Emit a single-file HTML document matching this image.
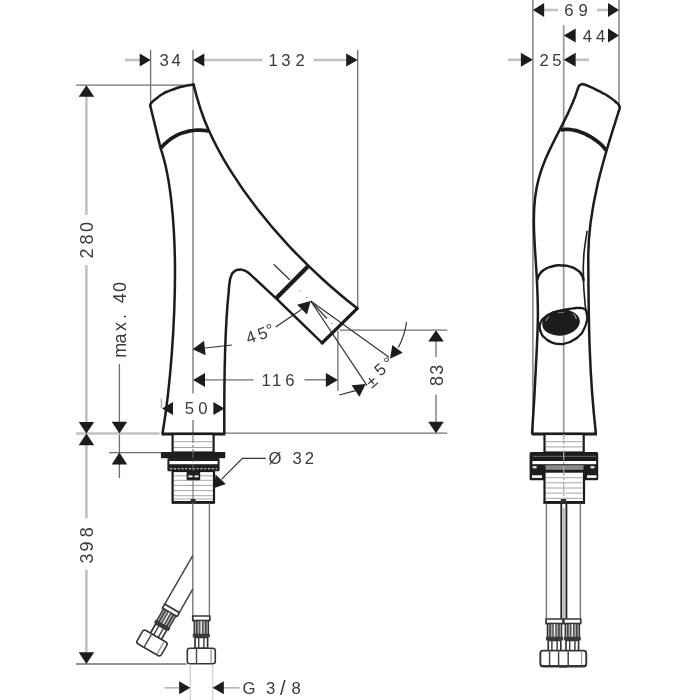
<!DOCTYPE html>
<html>
<head>
<meta charset="utf-8">
<title>Dimension drawing</title>
<style>
html,body{margin:0;padding:0;background:#fff;}
body{width:700px;height:700px;overflow:hidden;}
svg{display:block;}
text{font-family:"Liberation Sans",sans-serif;font-size:16.7px;fill:#3a3a3a;}
text.v{font-size:18px;}
.b{fill:none;stroke:#1c1c1c;stroke-width:2.5;stroke-linecap:round;stroke-linejoin:round;}
.bt{fill:none;stroke:#1c1c1c;stroke-width:3.4;stroke-linecap:butt;}
.m{fill:none;stroke:#333;stroke-width:1.2;}
.g{fill:none;stroke:#707070;stroke-width:1.3;}
.l{fill:none;stroke:#b4b4b4;stroke-width:1.6;}
.vl{fill:none;stroke:#d2d2d2;stroke-width:1.3;}
.c{fill:none;stroke:#9c9c9c;stroke-width:1.8;}
.d{fill:none;stroke:#c2c2c2;stroke-width:2.6;}
.a{fill:#1c1c1c;stroke:none;}
.th{fill:none;stroke:#9a9a9a;stroke-width:0.9;}
.h{fill:none;stroke:#777;stroke-width:1.4;}
.ha{fill:none;stroke:#444;stroke-width:1.5;}
.f{fill:#fff;stroke:#363636;stroke-width:1.7;stroke-linejoin:round;}
</style>
</head>
<body>
<svg width="700" height="700" viewBox="0 0 700 700">
<rect width="700" height="700" fill="#fff"/>
<defs><filter id="soft" x="0" y="0" width="700" height="700" filterUnits="userSpaceOnUse"><feGaussianBlur stdDeviation="0.6"/></filter></defs>
<g filter="url(#soft)">

<g class="g">
<line x1="150.6" y1="50" x2="150.6" y2="105"/>
<line x1="193" y1="50" x2="193" y2="393.5"/>
<line x1="193" y1="420" x2="193" y2="433"/>
<line x1="357.7" y1="50" x2="357.7" y2="307"/>
<line x1="76" y1="85.2" x2="193" y2="85.2"/>
<line x1="225" y1="433.2" x2="447.3" y2="433.2"/>
<line x1="109" y1="452.6" x2="161" y2="452.6"/>
<line x1="76" y1="664" x2="186.5" y2="664"/>
<line x1="340" y1="330.1" x2="447.3" y2="330.1"/>
<line x1="337.9" y1="331" x2="337.9" y2="391"/>
<line x1="119.4" y1="364" x2="119.4" y2="478"/>
<line x1="205" y1="379.8" x2="253.5" y2="379.8"/>
<line x1="304.5" y1="379.8" x2="326" y2="379.8"/>
<line x1="436" y1="341" x2="436" y2="357"/>
<line x1="436" y1="394.5" x2="436" y2="422"/>
<line x1="532.9" y1="0" x2="532.9" y2="433"/>
<line x1="619" y1="0" x2="619" y2="104"/>
</g>
<g class="l">
<line x1="161.4" y1="398.5" x2="161.4" y2="408"/>
<line x1="164.5" y1="687.8" x2="179" y2="687.8"/>
<line x1="224" y1="687.8" x2="239.5" y2="687.8"/>
</g>
<g class="vl"><line x1="190.3" y1="665" x2="190.3" y2="700"/><line x1="212.6" y1="665" x2="212.6" y2="700"/></g>
<line class="c" x1="563.7" y1="25" x2="563.7" y2="433"/>
<g class="d">
<line x1="76" y1="433.5" x2="159.5" y2="433.5"/>
<line x1="125" y1="60" x2="140" y2="60"/>
<line x1="204" y1="60" x2="262.5" y2="60"/>
<line x1="313.5" y1="60" x2="346" y2="60"/>
<line x1="86.4" y1="96" x2="86.4" y2="215"/>
<line x1="86.4" y1="265" x2="86.4" y2="423"/>
<line x1="86.4" y1="445" x2="86.4" y2="518.5"/>
<line x1="86.4" y1="569.5" x2="86.4" y2="653"/>
<line x1="544" y1="10" x2="558" y2="10"/>
<line x1="597" y1="10" x2="608" y2="10"/>
<line x1="508" y1="59.8" x2="521" y2="59.8"/>
<line x1="575.5" y1="59.8" x2="589" y2="59.8"/>
</g>
<g class="a">
<path d="M150.7 60.0 L139.7 66.5 L139.7 53.5 Z"/>
<path d="M193.0 60.0 L204.3 53.5 L204.3 66.5 Z"/>
<path d="M357.7 60.0 L346.2 66.5 L346.2 53.5 Z"/>
<path d="M86.4 85.2 L94.2 96.8 L78.7 96.8 Z"/>
<path d="M86.4 433.4 L78.7 422.0 L94.2 422.0 Z"/>
<path d="M86.4 433.4 L94.2 445.2 L78.7 445.2 Z"/>
<path d="M86.4 664.0 L78.7 652.2 L94.2 652.2 Z"/>
<path d="M119.4 433.4 L111.7 421.8 L127.2 421.8 Z"/>
<path d="M119.4 452.6 L127.2 464.6 L111.7 464.6 Z"/>
<path d="M193.0 380.0 L205.0 373.0 L205.0 387.0 Z"/>
<path d="M337.9 380.0 L325.9 387.0 L325.9 373.0 Z"/>
<path d="M192.6 349.3 L204.1 340.8 L205.6 355.2 Z"/>
<path d="M162.0 408.6 L173.0 402.1 L173.0 415.1 Z"/>
<path d="M224.4 408.6 L213.4 415.1 L213.4 402.1 Z"/>
<path d="M436.0 330.2 L443.8 341.5 L428.2 341.5 Z"/>
<path d="M436.0 433.2 L428.2 421.7 L443.8 421.7 Z"/>
<path d="M190.3 687.7 L179.1 694.2 L179.1 681.2 Z"/>
<path d="M212.6 687.7 L223.8 681.2 L223.8 694.2 Z"/>
<path d="M310.7 301.0 L307.0 314.6 L297.1 304.7 Z"/>
<path d="M390.0 358.8 L392.3 344.9 L402.7 352.7 Z"/>
<path d="M365.7 384.1 L359.4 396.8 L351.6 385.2 Z"/>
<path d="M532.9 10.0 L544.1 3.0 L544.1 17.0 Z"/>
<path d="M619.0 10.0 L608.0 17.0 L608.0 3.0 Z"/>
<path d="M563.7 35.6 L575.7 28.6 L575.7 42.6 Z"/>
<path d="M619.0 35.6 L608.0 42.6 L608.0 28.6 Z"/>
<path d="M532.9 59.7 L520.9 66.7 L520.9 52.7 Z"/>
<path d="M563.7 59.7 L575.7 52.7 L575.7 66.7 Z"/>
<path d="M215.5 474.6 L225.8 484.1 L214.3 488 Z"/>
</g>
<g class="m">
<line x1="205" y1="348" x2="232.1" y2="345"/>
<line x1="275.7" y1="327.1" x2="301.5" y2="309.5"/>
<line x1="310.7" y1="301" x2="389" y2="357.3"/>
<line x1="310.7" y1="301" x2="367.1" y2="385.7"/>
<line x1="310.7" y1="301" x2="327" y2="318.5"/>
<line x1="273.6" y1="264.3" x2="290" y2="280"/>
<path d="M406.6 322 Q404.5 336 398.3 347.5"/>
<line x1="339.3" y1="395" x2="356.5" y2="390.3"/>
<path d="M221.5 479.3 L242.4 458.3 H265.7"/>
</g>
<line x1="300" y1="290.5" x2="343.5" y2="335.5" stroke="#555" stroke-width="1" stroke-dasharray="1.5 7.5"/>
<path class="b" d="M150.2 105.5 L160.7 148.6 C171.4 178.9 175 230.4 175 272 C175 323.9 170.4 387 162.6 433"/>
<path class="b" d="M150.2 105.5 C150.7 104.6 149.3 105.2 151.6 102.7 C153.9 100.2 153.3 100.9 157.1 97.9 C160.9 94.9 159.1 96.0 162.9 93.8 C166.7 91.6 163.9 93.1 168.6 91.2 C173.3 89.3 172.3 89.6 177.1 88.0 C181.9 86.4 177.4 87.5 182.9 86.4 C188.4 85.3 190.0 85.2 193.6 84.6"/>
<path class="b" d="M193.6 84.6 C197.3 100.0 201.9 114.9 208.2 129.1 C214.5 143.4 222.0 157.2 230.3 170.4 C238.6 183.7 247.7 196.6 257.4 208.9 C267.0 221.3 277.2 233.3 287.9 244.8 C298.6 256.3 309.8 267.4 321.3 278.0 C332.8 288.6 344.9 298.7 357.1 308.3"/>
<path class="b" d="M322.1 342.9 L276.4 298.6 L248.6 272.9"/>
<path class="b" d="M248.6 272.9 C247.1 272.1 247.3 271.4 244.0 270.4 C240.7 269.4 241.9 269.3 238.6 269.8 C235.3 270.3 236.5 269.6 234.0 271.8 C231.5 274.0 232.5 272.4 231.0 276.5 C229.5 280.6 230.2 278.5 229.4 284.0 C228.6 289.5 228.9 289.9 228.6 292.9 C224.2 333.8 224.1 389.5 224.3 433"/>
<path style="stroke-width:3" class="bt" d="M161.5 434 H225.3"/>
<path style="stroke-width:3.7" class="bt" d="M161.1 147.9 C163.1 145.9 162.1 146.0 167.0 142.0 C171.9 138.0 170.0 139.1 175.7 135.9 C181.4 132.7 178.3 134.3 184.0 132.5 C189.7 130.7 187.6 131.3 192.9 130.5 C198.2 129.7 194.7 130.1 200.0 130.2 C205.3 130.3 205.9 130.6 208.8 130.8"/>
<path style="stroke-width:4.3" class="bt" d="M276 298.6 L307.8 266.6"/>
<path style="stroke-width:3.2;stroke-linecap:round" class="bt" d="M357.3 308.3 L322.1 343"/>
<g>
<rect x="172.6" y="434" width="41" height="18.5" fill="#fff" stroke="#1c1c1c" stroke-width="2.2"/>
<g class="th"><line x1="174" y1="441.7" x2="212.5" y2="441.7"/><line x1="174" y1="447.5" x2="212.5" y2="447.5"/></g>
<rect x="160.9" y="452" width="64.4" height="6.2" rx="1" fill="#1c1c1c"/>
<rect x="167.4" y="458" width="52.2" height="13.3" rx="1.5" fill="#222"/>
<rect x="169.4" y="461" width="48.2" height="3.2" fill="#fff"/>
<line x1="170" y1="468.7" x2="217" y2="468.7" stroke="#aaa" stroke-width="1.6" stroke-dasharray="2.2 1.6"/>
<rect x="172.6" y="471" width="41.4" height="31.5" fill="#fff" stroke="#1c1c1c" stroke-width="2.2"/>
<g class="th"><line x1="174" y1="475.8" x2="212.8" y2="475.8"/><line x1="174" y1="480.3" x2="212.8" y2="480.3"/><line x1="174" y1="485.4" x2="212.8" y2="485.4"/><line x1="174" y1="490.6" x2="212.8" y2="490.6"/><line x1="174" y1="495.7" x2="212.8" y2="495.7"/><line x1="174" y1="499" x2="212.8" y2="499"/></g>
<line x1="172" y1="502.3" x2="214.6" y2="502.3" stroke="#1c1c1c" stroke-width="2.8"/>
<rect x="186.6" y="471.5" width="13.6" height="8.8" rx="1.2" fill="#222"/>
<rect x="188.5" y="475.5" width="4" height="1.8" fill="#fff"/><rect x="194.5" y="475.5" width="4" height="1.8" fill="#fff"/>
<rect x="190.6" y="499" width="5" height="4.4" fill="#333"/>
<line x1="193" y1="434" x2="193" y2="471" stroke="#666" stroke-width="1" stroke-dasharray="9 2 2 2"/>
<line x1="193" y1="481" x2="193" y2="499" stroke="#666" stroke-width="1"/>
</g>
<g class="h">
<line x1="192.8" y1="503.5" x2="192.8" y2="616"/>
<line x1="209.4" y1="503.5" x2="209.4" y2="616"/>
</g>
<g transform="translate(152 643) rotate(30)">
<g transform="translate(0 -40)">
<line class="ha" x1="-8.4" y1="0" x2="-8.4" y2="-56"/>
<line class="ha" x1="8.4" y1="0" x2="8.4" y2="-27"/>
<rect class="f" x="-8.5" y="0" width="17" height="4.6"/><rect x="-7.1" y="4.6" width="14.2" height="14" fill="#a8a8a8" stroke="#363636" stroke-width="1.4"/><line x1="-4.5" y1="5" x2="-4.5" y2="18.5" stroke="#3a3a3a" stroke-width="1.4"/><line x1="-1.3" y1="5" x2="-1.3" y2="18.5" stroke="#3a3a3a" stroke-width="1.4"/><line x1="1.3" y1="5" x2="1.3" y2="18.5" stroke="#3a3a3a" stroke-width="1.4"/><line x1="4.5" y1="5" x2="4.5" y2="18.5" stroke="#3a3a3a" stroke-width="1.4"/><line x1="0" y1="5" x2="0" y2="18.5" stroke="#eee" stroke-width="1.6"/><rect x="-8.5" y="17.8" width="17" height="3.6" fill="#3a3a3a"/><rect class="f" x="-6.3" y="21.4" width="12.6" height="11"/><line x1="-2.6" y1="22" x2="-2.6" y2="32" stroke="#444" stroke-width="1.5"/><line x1="2.6" y1="22" x2="2.6" y2="32" stroke="#444" stroke-width="1.5"/><rect style="stroke-width:1.6" class="f" x="-14" y="32.2" width="28" height="15.6" rx="2.5"/><line x1="-4.8" y1="33" x2="-4.8" y2="47.5" stroke="#444" stroke-width="1.4"/><line x1="9.8" y1="33" x2="9.8" y2="47.5" stroke="#888" stroke-width="1.1"/>
</g></g>
<g transform="translate(201.3 616)">
<rect class="f" x="-8.5" y="0" width="17" height="4.6"/><rect x="-7.1" y="4.6" width="14.2" height="14" fill="#a8a8a8" stroke="#363636" stroke-width="1.4"/><line x1="-4.5" y1="5" x2="-4.5" y2="18.5" stroke="#3a3a3a" stroke-width="1.4"/><line x1="-1.3" y1="5" x2="-1.3" y2="18.5" stroke="#3a3a3a" stroke-width="1.4"/><line x1="1.3" y1="5" x2="1.3" y2="18.5" stroke="#3a3a3a" stroke-width="1.4"/><line x1="4.5" y1="5" x2="4.5" y2="18.5" stroke="#3a3a3a" stroke-width="1.4"/><line x1="0" y1="5" x2="0" y2="18.5" stroke="#eee" stroke-width="1.6"/><rect x="-8.5" y="17.8" width="17" height="3.6" fill="#3a3a3a"/><rect class="f" x="-6.3" y="21.4" width="12.6" height="11"/><line x1="-2.6" y1="22" x2="-2.6" y2="32" stroke="#444" stroke-width="1.5"/><line x1="2.6" y1="22" x2="2.6" y2="32" stroke="#444" stroke-width="1.5"/><rect style="stroke-width:1.6" class="f" x="-14" y="32.2" width="28" height="15.6" rx="2.5"/><line x1="-4.8" y1="33" x2="-4.8" y2="47.5" stroke="#444" stroke-width="1.4"/><line x1="9.8" y1="33" x2="9.8" y2="47.5" stroke="#888" stroke-width="1.1"/>
</g>
<path class="b" d="M577.9 88.6 C574.1 101.1 568.4 112.9 562.4 124.6 C556.4 136.3 550.1 148.0 545.1 160.1 C540.1 172.2 536.6 184.7 535.1 197.6 C533.5 210.4 533.6 223.6 534.3 236.8 C534.9 250.0 536.0 263.2 536.7 276.2 C537.4 289.3 537.9 302.3 537.9 315.3 C537.8 328.4 537.2 341.5 536.5 354.6 C535.8 367.7 535.1 380.8 534.5 393.8 C533.8 406.9 532.9 420.0 532.1 433.0"/>
<path class="b" d="M577.9 88.6 C578.3 87.7 577.9 87.4 579.0 86.0 C580.1 84.6 579.4 85.0 581.2 84.5 C583.0 84.0 580.7 83.4 584.3 84.5 C587.9 85.6 586.3 85.1 592.0 87.7 C597.7 90.3 595.7 89.3 601.4 92.3 C607.1 95.3 604.4 93.6 609.0 96.7 C613.6 99.8 612.0 98.8 615.2 101.5 C618.4 104.2 617.1 102.7 618.6 104.8 C620.1 106.9 619.4 106.8 619.8 107.8"/>
<path class="b" d="M619.8 107.8 C611.5 135.4 586.8 202.3 588.3 262 C588.6 321.3 589.1 373.6 595.8 432.5"/>
<path style="stroke-width:3" class="bt" d="M531.6 434 H597"/>
<path style="stroke-width:3.7" class="bt" d="M560.7 129.8 C562.6 129.7 562.4 129.3 566.5 129.4 C570.6 129.5 568.4 129.2 572.9 130.0 C577.4 130.8 575.3 130.2 580.0 131.9 C584.7 133.6 582.8 132.8 587.1 135.0 C591.4 137.2 589.2 135.9 593.0 138.4 C596.8 140.9 595.3 139.7 598.6 142.4 C601.9 145.1 600.5 143.8 603.0 146.5 C605.5 149.2 605.1 149.1 606.2 150.4"/>
<path style="stroke-width:1.6" class="b" d="M587.1 231.4 C586.4 235.9 586.2 235.5 585.0 245.0 C583.8 254.5 584.1 248.8 583.6 260.0 C583.1 271.2 583.2 266.3 583.5 278.6 C583.8 290.9 583.7 286.2 584.5 297.0 C585.3 307.8 585.0 303.3 586.0 311.0 C587.0 318.7 587.0 317.0 587.5 320.0"/>
<path class="b" d="M537.2 280.0 C538.0 278.2 537.1 277.9 539.5 274.5 C541.9 271.1 540.1 272.5 544.3 269.8 C548.5 267.1 546.3 268.0 552.0 266.5 C557.7 265.0 555.4 265.4 561.4 265.4 C567.4 265.4 564.8 265.1 570.0 266.6 C575.2 268.1 573.3 267.4 577.1 270.0 C580.9 272.6 579.3 271.2 581.5 274.5 C583.7 277.8 582.9 278.2 583.6 280.0"/>
<path style="stroke-width:2.3" class="b" d="M539.6 326.5 C540.1 324.9 539.2 324.7 541.0 321.6 C542.8 318.5 542.0 319.7 545.0 317.2 C548.0 314.7 546.0 315.9 550.0 314.0 C554.0 312.1 552.0 313.0 557.0 311.5 C562.0 310.0 559.7 310.6 565.0 309.6 C570.3 308.6 568.0 308.9 573.0 308.4 C578.0 307.9 576.2 307.7 580.0 308.0 C583.8 308.3 582.2 307.7 584.5 309.2 C586.8 310.7 586.0 308.9 586.8 312.5 C587.6 316.1 588.1 314.2 587.0 320.0 C585.9 325.8 586.2 324.7 583.5 330.0 C580.8 335.3 582.5 332.6 579.0 336.0 C575.5 339.4 577.2 338.0 573.0 340.3 C568.8 342.6 570.8 341.8 566.5 343.0 C562.2 344.2 564.8 344.2 560.0 344.0 C555.2 343.8 557.0 344.5 552.0 342.5 C547.0 340.5 548.7 341.3 545.0 338.0 C541.3 334.7 542.8 336.3 541.0 332.5 C539.2 328.7 540.1 328.5 539.6 326.5"/>
<ellipse cx="561" cy="322.6" rx="18.9" ry="12.9" fill="#1c1c1c" transform="rotate(-7 561 322.6)"/>
<path d="M546 321 q1 -3 3 -4.5" stroke="#bbb" stroke-width="1" fill="none"/><path d="M573 313.5 q2.5 2 3.3 5.5" stroke="#bbb" stroke-width="1" fill="none"/><path d="M558 312.6 h6" stroke="#999" stroke-width="0.8" fill="none"/>
<g>
<rect x="544.5" y="434" width="39.2" height="18.5" fill="#fff" stroke="#1c1c1c" stroke-width="2.2"/>
<g class="th"><line x1="546" y1="441.7" x2="582.5" y2="441.7"/><line x1="546" y1="446.9" x2="582.5" y2="446.9"/></g>
<rect x="529.6" y="452" width="68.6" height="28.3" rx="1.5" fill="#1c1c1c"/>
<rect x="532.4" y="461" width="63.8" height="3.2" fill="#fff"/>
<line x1="533" y1="456.3" x2="596" y2="456.3" stroke="#777" stroke-width="0.9"/>
<rect x="545.5" y="465.2" width="38" height="4.6" fill="#8a8a8a"/>
<rect x="532.6" y="466" width="4" height="2.4" fill="#ddd"/><rect x="590.5" y="466" width="4" height="2.4" fill="#ddd"/>
<rect x="532" y="475.3" width="10" height="2.6" fill="#fff"/><rect x="587" y="475.3" width="9.5" height="2.6" fill="#fff"/>
<rect x="544.5" y="471.6" width="39.5" height="31" fill="#fff" stroke="#1c1c1c" stroke-width="2.2"/>
<g class="th"><line x1="546" y1="477.7" x2="582.8" y2="477.7"/><line x1="546" y1="482.8" x2="582.8" y2="482.8"/><line x1="546" y1="488" x2="582.8" y2="488"/><line x1="546" y1="493.1" x2="582.8" y2="493.1"/><line x1="546" y1="498.3" x2="582.8" y2="498.3"/></g>
<line x1="543.6" y1="502.3" x2="585" y2="502.3" stroke="#1c1c1c" stroke-width="2.8"/>
<rect x="560.8" y="499" width="5.4" height="4.4" fill="#333"/>
<line x1="563.7" y1="434" x2="563.7" y2="499" stroke="#aaa" stroke-width="1.2" stroke-dasharray="10 2 2 2"/>
</g>
<g class="h">
<line x1="546.4" y1="503.5" x2="546.4" y2="619"/>
<line x1="580.4" y1="503.5" x2="580.4" y2="619"/>
<line x1="561.3" y1="503.5" x2="561.3" y2="619" stroke="#2a2a2a" stroke-width="1.9"/>
<line x1="566.4" y1="503.5" x2="566.4" y2="619" stroke="#2a2a2a" stroke-width="1.9"/>
<line x1="563.9" y1="508" x2="563.9" y2="619" stroke="#aaa" stroke-width="1.4"/>
</g>
<g transform="translate(554.5 619)"><rect class="f" x="-8.5" y="0" width="17" height="4.6"/><rect x="-7.1" y="4.6" width="14.2" height="14" fill="#a8a8a8" stroke="#363636" stroke-width="1.4"/><line x1="-4.5" y1="5" x2="-4.5" y2="18.5" stroke="#3a3a3a" stroke-width="1.4"/><line x1="-1.3" y1="5" x2="-1.3" y2="18.5" stroke="#3a3a3a" stroke-width="1.4"/><line x1="1.3" y1="5" x2="1.3" y2="18.5" stroke="#3a3a3a" stroke-width="1.4"/><line x1="4.5" y1="5" x2="4.5" y2="18.5" stroke="#3a3a3a" stroke-width="1.4"/><line x1="0" y1="5" x2="0" y2="18.5" stroke="#eee" stroke-width="1.6"/><rect x="-8.5" y="17.8" width="17" height="3.6" fill="#3a3a3a"/><rect class="f" x="-6.3" y="21.4" width="12.6" height="11"/><line x1="-2.6" y1="22" x2="-2.6" y2="32" stroke="#444" stroke-width="1.5"/><line x1="2.6" y1="22" x2="2.6" y2="32" stroke="#444" stroke-width="1.5"/><rect style="stroke-width:1.6" class="f" x="-14" y="32.2" width="28" height="15.6" rx="2.5"/><line x1="-4.8" y1="33" x2="-4.8" y2="47.5" stroke="#444" stroke-width="1.4"/><line x1="9.8" y1="33" x2="9.8" y2="47.5" stroke="#888" stroke-width="1.1"/></g>
<g transform="translate(572.3 619)"><rect class="f" x="-8.5" y="0" width="17" height="4.6"/><rect x="-7.1" y="4.6" width="14.2" height="14" fill="#a8a8a8" stroke="#363636" stroke-width="1.4"/><line x1="-4.5" y1="5" x2="-4.5" y2="18.5" stroke="#3a3a3a" stroke-width="1.4"/><line x1="-1.3" y1="5" x2="-1.3" y2="18.5" stroke="#3a3a3a" stroke-width="1.4"/><line x1="1.3" y1="5" x2="1.3" y2="18.5" stroke="#3a3a3a" stroke-width="1.4"/><line x1="4.5" y1="5" x2="4.5" y2="18.5" stroke="#3a3a3a" stroke-width="1.4"/><line x1="0" y1="5" x2="0" y2="18.5" stroke="#eee" stroke-width="1.6"/><rect x="-8.5" y="17.8" width="17" height="3.6" fill="#3a3a3a"/><rect class="f" x="-6.3" y="21.4" width="12.6" height="11"/><line x1="-2.6" y1="22" x2="-2.6" y2="32" stroke="#444" stroke-width="1.5"/><line x1="2.6" y1="22" x2="2.6" y2="32" stroke="#444" stroke-width="1.5"/><rect style="stroke-width:1.6" class="f" x="-14" y="32.2" width="28" height="15.6" rx="2.5"/><line x1="-4.8" y1="33" x2="-4.8" y2="47.5" stroke="#444" stroke-width="1.4"/><line x1="9.8" y1="33" x2="9.8" y2="47.5" stroke="#888" stroke-width="1.1"/></g>
<rect style="stroke-width:1.8" class="f" x="540.4" y="650.6" width="45.8" height="15.4" rx="2.5"/>
<line x1="549.6" y1="651.5" x2="549.6" y2="665.2" stroke="#444" stroke-width="1.5"/>
<line x1="558.6" y1="651.5" x2="558.6" y2="665.2" stroke="#444" stroke-width="1.5"/>
<line x1="568.2" y1="651.5" x2="568.2" y2="665.2" stroke="#444" stroke-width="1.5"/>
<line x1="581.6" y1="651.5" x2="581.6" y2="665.2" stroke="#999" stroke-width="1.1"/>
<text x="159.5 171.6" y="65.8">34</text>
<text x="268.4 281.3 295.4" y="66">132</text>
<text class="v" transform="rotate(-90)" x="-258.5 -244.4 -231.9" y="93.1">280</text>
<text class="v" transform="rotate(-90)" x="-563.6 -551.6 -537.3" y="93.1">398</text>
<text class="v" transform="rotate(-90)" x="-357.8 -343.5 -331.0 -319.1 -310.5 -303.3 -291.9" y="125.5">max. 40</text>
<text x="261.6 272.1 285.2" y="386.3">116</text>
<text x="184.7 198.3" y="414.3">50</text>
<text class="v" transform="rotate(-90)" x="-385.9 -374.7" y="442.9">83</text>
<text x="268.5 283.7 292.5 304.7" y="463.6">Ø 32</text>
<text x="242.5 257.7 266.1 280.1 291.5" y="693.6">G 3<tspan style="font-size:20px" dy="1.6">/</tspan><tspan dy="-1.6">8</tspan></text>
<text x="564.2 578.4" y="16">69</text>
<text x="582.7 596.1" y="42">44</text>
<text x="539.4 552.2" y="66">25</text>
<text transform="rotate(-19)" x="122.7 135.1 144.6" y="406.2 406.5 405.5">45°</text>
<text transform="rotate(-40)" x="34.8 48.9 61.6" y="536.7 533.3 533.4">±5°</text>
</g>
</svg>
</body>
</html>
